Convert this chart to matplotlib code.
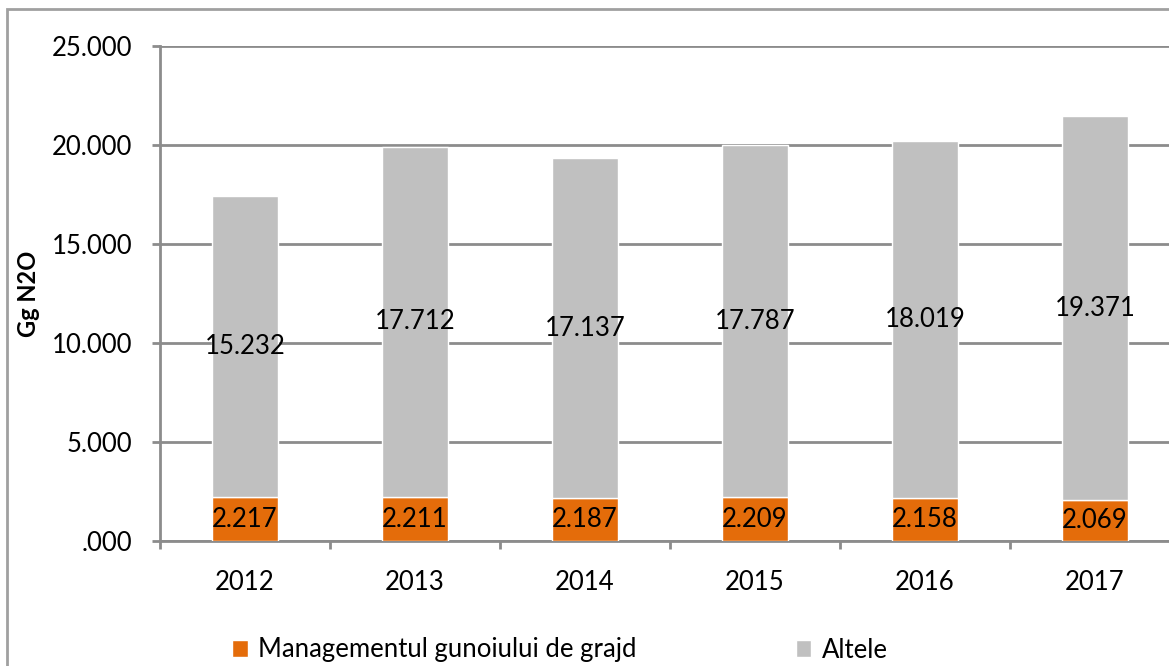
import matplotlib
matplotlib.use('Agg')
import matplotlib.pyplot as plt
import numpy as np
from matplotlib.patches import Rectangle

years = ['2012', '2013', '2014', '2015', '2016', '2017']
gunoi = [2.217, 2.211, 2.187, 2.209, 2.158, 2.069]
altele = [15.232, 17.712, 17.137, 17.787, 18.019, 19.371]
yticks = [0, 5, 10, 15, 20, 25]

ORANGE = '#E46C0A'
GREY = '#C0C0C0'
LINE = '#8C8C8C'

plt.rcParams['font.family'] = ['Lato', 'DejaVu Sans']
plt.rcParams['font.size'] = 18.5

W, H = 1169, 666
fig = plt.figure(figsize=(W / 100, H / 100), dpi=100)

# outer chart border (cut off on the right and bottom in the reference)
fig.patches.append(Rectangle((7 / W, -0.1), 1.2, 1 - 9 / H + 0.1,
                             transform=fig.transFigure, fill=False,
                             edgecolor='#A0A0A0', linewidth=2))

ax = fig.add_axes([160 / W, 1 - 541 / H, 1020 / W, (541 - 46) / H])

x = np.arange(len(years))
w = 0.39
b1 = ax.bar(x, gunoi, w, color=ORANGE, edgecolor='white', linewidth=1, zorder=3)
b2 = ax.bar(x, altele, w, bottom=gunoi, color=GREY, edgecolor='white',
            linewidth=1, zorder=3)

for i in range(len(years)):
    ax.text(x[i], gunoi[i] / 2, f'{gunoi[i]:.3f}', ha='center', va='center', zorder=4)
    ax.text(x[i], gunoi[i] + altele[i] / 2, f'{altele[i]:.3f}', ha='center',
            va='center', zorder=4)

ax.set_xlim(-0.5, len(years) - 0.5)
ax.set_ylim(0, 25)
ax.set_yticks(yticks)
ax.set_yticklabels(['.000' if v == 0 else f'{v:.3f}' for v in yticks])
ax.yaxis.grid(True, color=LINE, linewidth=2, zorder=0)
ax.set_axisbelow(True)

ax.set_xticks(x)
ax.set_xticklabels(years)
ax.set_xticks(np.arange(-0.5, len(years), 1), minor=True)
ax.tick_params(axis='x', which='major', length=0, pad=21)
ax.tick_params(axis='x', which='minor', length=6, width=2, color=LINE)
ax.tick_params(axis='y', length=6, width=2, color=LINE, pad=14)

for s in ['top', 'right']:
    ax.spines[s].set_visible(False)
for s in ['left', 'bottom']:
    ax.spines[s].set_color(LINE)
    ax.spines[s].set_linewidth(2)

ax.set_ylabel('Gg N2O', fontweight='bold', fontsize=17)
ax.yaxis.set_label_coords((40 - 160) / 1020, 0.5)

fig.legend([b1, b2], ['Managementul gunoiului de grajd', 'Altele'],
           loc='center left', bbox_to_anchor=(222 / W, 1 - 650 / H), ncol=2,
           frameon=False, handlelength=0.6, handleheight=0.6,
           handletextpad=0.4, columnspacing=6.2, borderaxespad=0)

fig.savefig('out.png', dpi=100)
